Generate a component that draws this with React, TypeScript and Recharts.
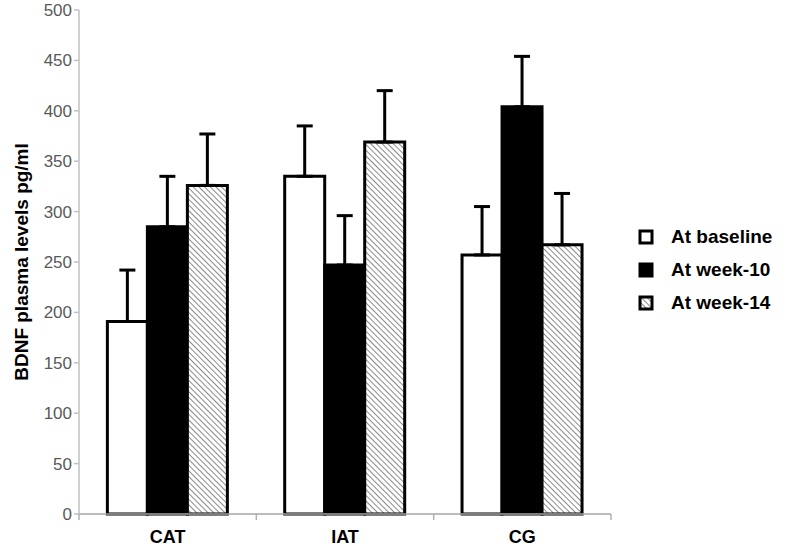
import { BarChart, Bar, XAxis, YAxis, ErrorBar } from "recharts";

const groups = ["CAT", "IAT", "CG"];
const baseline = [191, 335, 257];
const week10 = [285, 247, 404];
const week14 = [326, 369, 267];
const baselineErr = [51, 50, 48];
const week10Err = [50, 49, 50];
const week14Err = [51, 51, 51];
const yTicks = [0, 50, 100, 150, 200, 250, 300, 350, 400, 450, 500];

const data = groups.map((g, i) => ({
  group: g,
  baseline: baseline[i],
  week10: week10[i],
  week14: week14[i],
  baselineErr: [0, baselineErr[i]],
  week10Err: [0, week10Err[i]],
  week14Err: [0, week14Err[i]],
}));

const FONT = "'Liberation Sans', Arial, sans-serif";

const legendItems = [
  { label: "At baseline", fill: "#ffffff" },
  { label: "At week-10", fill: "#000000" },
  { label: "At week-14", fill: "url(#hatchLeg)" },
];

function CategoryTick(props: any) {
  const { x, y, payload, index } = props;
  const half = payload?.offset ?? 88.7;
  return (
    <g>
      {index === 0 && (
        <line x1={x - half} y1={y - 8} x2={x - half} y2={y - 2} stroke="#b0b0b0" strokeWidth={1.5} />
      )}
      <line x1={x + half} y1={y - 8} x2={x + half} y2={y - 2} stroke="#b0b0b0" strokeWidth={1.5} />
      <text x={x} y={y + 21} textAnchor="middle" fontFamily={FONT} fontWeight="bold" fontSize={18} fill="#000">
        {payload.value}
      </text>
    </g>
  );
}

function LegendBox() {
  return (
    <div
      style={{
        position: "absolute",
        left: 638,
        top: 220,
        fontFamily: FONT,
        fontWeight: "bold",
        fontSize: 19,
        color: "#000",
      }}
    >
      {legendItems.map((it) => (
        <div key={it.label} style={{ display: "flex", alignItems: "center", height: 33 }}>
          <svg width={16} height={16} style={{ marginRight: 17 }}>
            <defs>
              <pattern id="hatchLeg" width="4" height="4" patternUnits="userSpaceOnUse" patternTransform="rotate(-45)">
                <rect width="4" height="4" fill="#fff" />
                <line x1="0" y1="0" x2="0" y2="4" stroke="#8a8a8a" strokeWidth="2" />
              </pattern>
            </defs>
            <rect x={2} y={2} width={12} height={12} fill={it.fill} stroke="#000" strokeWidth={3} />
          </svg>
          <span>{it.label}</span>
        </div>
      ))}
    </div>
  );
}

export default function App() {
  return (
    <div style={{ position: "absolute", left: 0, top: 0, width: 787, height: 550, background: "#fff" }}>
      <BarChart
        width={787}
        height={550}
        data={data}
        margin={{ top: 10, right: 176, bottom: 0, left: 0 }}
        barCategoryGap="16%"
        barGap={0}
      >
        <defs>
          <pattern id="hatch" width="4" height="4" patternUnits="userSpaceOnUse" patternTransform="rotate(-45)">
            <rect width="4" height="4" fill="#fff" />
            <line x1="0" y1="0" x2="0" y2="4" stroke="#8a8a8a" strokeWidth="2" />
          </pattern>
        </defs>
        <XAxis
          dataKey="group"
          height={36}
          axisLine={{ stroke: "#a6a6a6", strokeWidth: 1.5 }}
          tickLine={false}
          tick={<CategoryTick />}
          interval={0}
        />
        <YAxis
          width={79}
          domain={[0, 500]}
          ticks={yTicks}
          interval={0}
          axisLine={{ stroke: "#c0c0c0", strokeWidth: 1.5 }}
          tickLine={{ stroke: "#c0c0c0", strokeWidth: 1.5 }}
          tickSize={5}
          tick={{ fill: "#595959", fontSize: 17, fontFamily: FONT }}
          label={{
            value: "BDNF plasma levels pg/ml",
            angle: -90,
            position: "insideLeft",
            offset: 21,
            style: { textAnchor: "middle", fontFamily: FONT, fontWeight: "bold", fontSize: 19, fill: "#000" },
          }}
        />
        <Bar dataKey="baseline" name="At baseline" fill="#ffffff" stroke="#000" strokeWidth={3} isAnimationActive={false}>
          <ErrorBar dataKey="baselineErr" width={8} stroke="#000" strokeWidth={3} direction="y" />
        </Bar>
        <Bar dataKey="week10" name="At week-10" fill="#000000" stroke="#000" strokeWidth={3} isAnimationActive={false}>
          <ErrorBar dataKey="week10Err" width={8} stroke="#000" strokeWidth={3} direction="y" />
        </Bar>
        <Bar dataKey="week14" name="At week-14" fill="url(#hatch)" stroke="#000" strokeWidth={3} isAnimationActive={false}>
          <ErrorBar dataKey="week14Err" width={8} stroke="#000" strokeWidth={3} direction="y" />
        </Bar>
      </BarChart>
      <LegendBox />
    </div>
  );
}
